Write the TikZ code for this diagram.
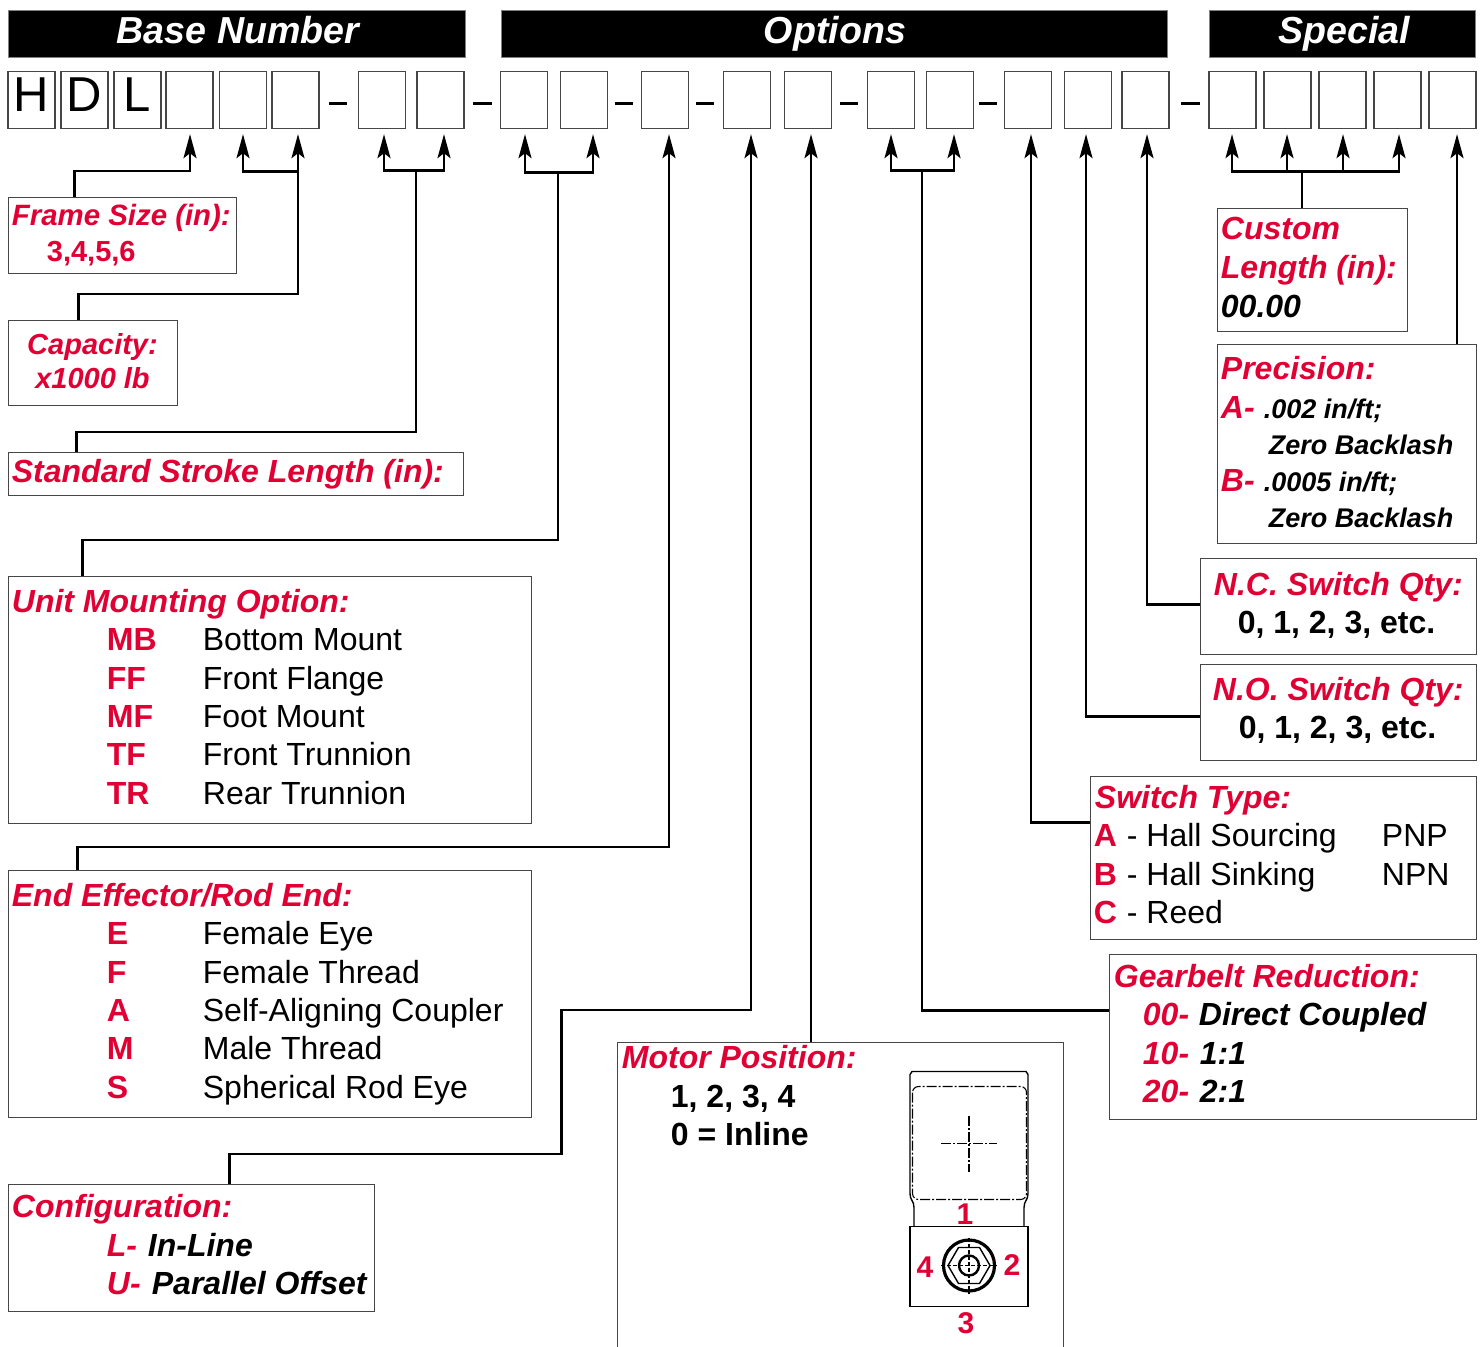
\documentclass[tikz,border=0pt]{standalone}
\usepackage{fontspec}
\setmainfont{Liberation Sans}
\usetikzlibrary{%
  arrows.meta,%
  calc,%
  fit,%
}
\definecolor{codered}{RGB}{224,0,52}
\definecolor{edgegray}{RGB}{70,70,70}
\newcommand{\fs}[1]{\fontsize{#1}{#1}\selectfont}
\tikzset{
  txt/.style={inner sep=0pt, anchor=base west, xshift=-0.25pt},
  head/.style={txt, text=codered, font=\fs{16}\bfseries\itshape},
  code/.style={txt, text=codered, font=\fs{16}\bfseries},
  rowtxt/.style={txt, font=\fs{16}},
  bolditem/.style={txt, font=\fs{16}\bfseries\itshape},
  valtxt/.style={txt, font=\fs{16}\bfseries},
  fine/.style={txt, font=\fs{13.5}\bfseries\itshape},
  num/.style={inner sep=0pt, text=codered, font=\fs{15}\bfseries},
  bar/.style={fill=black, draw=gray, line width=0.5pt, inner sep=0pt},
  bartxt/.style={inner sep=0pt, anchor=base, text=white, font=\fs{18.8}\bfseries\itshape},
  slot/.style={draw=edgegray, line width=0.7pt, fill=white, minimum width=23.5pt, minimum height=28.5pt,
    inner sep=0pt, text depth=5pt, font=\fs{24.5}},
  infobox/.style={draw=edgegray, line width=0.5pt, inner sep=0pt},
  wire/.style={line width=1.1pt},
  tip/.style={wire, -{Stealth[length=12pt, width=6.5pt, inset=2.5pt]}},
  part/.style={line width=0.7pt},
  centerline/.style={line width=0.55pt, dash pattern=on 5pt off 1pt on 1pt off 1pt},
}
\begin{document}
\begin{tikzpicture}[x=0.5pt, y=-0.5pt]

      \useasboundingbox (0, -0.5) rectangle (1481, 1346.5);

      % header bars
      \node [bar, fit={(8, 10) (465, 57)}] (barBase) {};
      \node [bar, fit={(501, 10) (1167, 57)}] (barOptions) {};
      \node [bar, fit={(1209, 10) (1475, 57)}] (barSpecial) {};
      \node [bartxt] (lblBase) at (238, 43) {Base Number};
      \node [bartxt] (lblOptions) at (835, 43) {Options};
      \node [bartxt] (lblSpecial) at (1344, 43) {Special};

      % model code slots
      \node [slot] (sH) at (31.5, 99.5) {H};
      \node [slot] (sD) at (84.5, 99.5) {D};
      \node [slot] (sL) at (137.5, 99.5) {L};
      \foreach \name/\xx in {frame/189.5, capA/243, capB/295.5, strA/382, strB/440.5,
          mntA/524, mntB/584, rod/665, conf/747, motor/808, gearA/891, gearB/950,
          swT/1028, swO/1088, swC/1145.5, lenA/1232.5, lenB/1287.5, lenC/1342.5,
          lenD/1397.5, prec/1452.5}
        \node [slot] (s\name) at (\xx, 99.5) {};

      \foreach \xa/\xb in {329/347, 473/492, 615/633, 696/714, 840/858, 979/997, 1181/1200}
        \draw [wire] (\xa, 103) -- (\xb, 103);

      % boxes
      \node [infobox, fit={(8, 197) (236, 273)}] (boxFrame) {};
      \node [infobox, fit={(8, 320) (177, 405)}] (boxCapacity) {};
      \node [infobox, fit={(8, 452) (463, 495)}] (boxStroke) {};
      \node [infobox, fit={(8, 576) (531, 823)}] (boxMount) {};
      \node [infobox, fit={(8, 870) (531, 1117)}] (boxRod) {};
      \node [infobox, fit={(8, 1184) (374, 1311)}] (boxConfig) {};
      \node [inner sep=0pt, fit={(618, 1042) (1063, 1346.5)}] (boxMotor) {};
      \draw [edgegray, line width=0.5pt] (boxMotor.south west) -- (boxMotor.north west)
        -- (boxMotor.north east) -- (boxMotor.south east);
      \node [infobox, fit={(1217, 208) (1407, 331)}] (boxLength) {};
      \node [infobox, fit={(1217, 344) (1476, 543)}] (boxPrecision) {};
      \node [infobox, fit={(1200, 558) (1476, 654)}] (boxNC) {};
      \node [infobox, fit={(1200, 664) (1476, 760)}] (boxNO) {};
      \node [infobox, fit={(1090, 776) (1476, 939)}] (boxSwitch) {};
      \node [infobox, fit={(1109, 954) (1476, 1119)}] (boxGear) {};

      % connectors
      \draw [tip] ([shift={(67, 0)}]boxFrame.north west) -- ++(0, -26) -| ([shift={(0.5, 5)}]sframe.south);

      \coordinate (jCap) at (298, 171);
      \draw [tip] ([shift={(71, 0)}]boxCapacity.north west) -- ++(0, -26) -| ([shift={(2.5, 5)}]scapB.south);
      \draw [tip] (jCap) -| ([shift={(0, 5)}]scapA.south);

      \coordinate (jStr) at (416, 170);
      \draw [wire] ([shift={(69, 0)}]boxStroke.north west) -- ++(0, -20) -| (jStr);
      \draw [tip] (jStr) -| ([shift={(2, 5)}]sstrA.south);
      \draw [tip] (jStr) -| ([shift={(3.5, 5)}]sstrB.south);

      \coordinate (jMnt) at (558, 172);
      \draw [wire] ([shift={(75, 0)}]boxMount.north west) -- ++(0, -36) -| (jMnt);
      \draw [tip] (jMnt) -| ([shift={(1, 5)}]smntA.south);
      \draw [tip] (jMnt) -| ([shift={(9, 5)}]smntB.south);

      \draw [tip] ([shift={(70, 0)}]boxRod.north west) -- ++(0, -23) -| ([shift={(4, 5)}]srod.south);

      \draw [tip] ([shift={(222, 0)}]boxConfig.north west) -- ++(0, -30) -- ++(332, 0) -- ++(0, -144)
        -| ([shift={(4, 5)}]sconf.south);

      \coordinate (tMotor) at ([shift={(3, 5)}]smotor.south);
      \draw [tip] (tMotor |- boxMotor.north) -- (tMotor);

      \coordinate (jGear) at (922, 170);
      \draw [wire] (boxGear.west |- 0, 1010) -| (jGear);
      \draw [tip] (jGear) -| ([shift={(0, 5)}]sgearA.south);
      \draw [tip] (jGear) -| ([shift={(4, 5)}]sgearB.south);

      \draw [tip] (boxSwitch.west |- 0, 822) -| ([shift={(3, 5)}]sswT.south);
      \draw [tip] (boxNO.west |- 0, 716) -| ([shift={(-2, 5)}]sswO.south);
      \draw [tip] (boxNC.west |- 0, 604) -| ([shift={(1.5, 5)}]sswC.south);
      \coordinate (tPrec) at ([shift={(4.5, 5)}]sprec.south);
      \draw [tip] (tPrec |- boxPrecision.north) -- (tPrec);

      \coordinate (jLen) at (1302, 171);
      \draw [wire] (jLen |- boxLength.north) -- (jLen);
      \draw [tip] (jLen) -| ([shift={(-0.5, 5)}]slenA.south);
      \draw [tip] (jLen) -| ([shift={(-0.5, 5)}]slenB.south);
      \draw [tip] (jLen) -| ([shift={(0.5, 5)}]slenC.south);
      \draw [tip] (jLen) -| ([shift={(1.5, 5)}]slenD.south);

      % frame size, capacity, stroke
      \node [head, font=\fs{14.7}\bfseries\itshape] (hFrame) at (12, 225) {Frame Size (in):};
      \node [txt, text=codered, font=\fs{14.5}\bfseries] (vFrame) at (47, 261) {3,4,5,6};
      \node [head, anchor=base, font=\fs{14.5}\bfseries\itshape] (hCapacity) at (93, 354) {Capacity:};
      \node [head, anchor=base, font=\fs{14.5}\bfseries\itshape] (vCapacity) at (93, 388) {x1000 lb};
      \node [head] (hStroke) at (12, 482) {Standard Stroke Length (in):};

      % mounting
      \node [head] (hMount) at (12, 612) {Unit Mounting Option:};
      \foreach \id/\txt/\yy in {MB/Bottom Mount/650, FF/Front Flange/689, MF/Foot Mount/727,
          TF/Front Trunnion/765, TR/Rear Trunnion/804} {
        \node [code] (c\id) at (107, \yy) {\id};
        \node [rowtxt] (t\id) at (203, \yy) {\txt};
      }

      % rod end
      \node [head] (hRod) at (12, 906) {End Effector/Rod End:};
      \foreach \id/\txt/\yy in {E/Female Eye/944, F/Female Thread/983, A/Self-Aligning Coupler/1021,
          M/Male Thread/1059, S/Spherical Rod Eye/1098} {
        \node [code] (r\id) at (107, \yy) {\id};
        \node [rowtxt] (n\id) at (203, \yy) {\txt};
      }

      % configuration
      \node [head] (hConfig) at (12, 1217) {Configuration:};
      \node [head] (cInline) at (107, 1256) {L-};
      \node [bolditem] (tInline) at (148, 1256) {In-Line};
      \node [head] (cOffset) at (107, 1294) {U-};
      \node [bolditem] (tOffset) at (152, 1294) {Parallel Offset};

      % motor position
      \node [head] (hMotor) at (622, 1068) {Motor Position:};
      \node [valtxt] (vMotorA) at (671, 1107) {1, 2, 3, 4};
      \node [valtxt] (vMotorB) at (671, 1145) {0 = Inline};

      \draw [part] (914, 1226) -- (914, 1207) .. controls (914, 1200) and (910, 1200) .. (910, 1193)
        -- (910, 1074) -- (912, 1071) -- (1026, 1071) -- (1028, 1074) -- (1028, 1193)
        .. controls (1028, 1200) and (1024, 1200) .. (1024, 1207) -- (1024, 1226);
      \draw [part] (910, 1226) rectangle (1028, 1306);
      \draw [centerline, rounded corners=3pt] (912.5, 1086) rectangle (1026.5, 1199);
      \draw [centerline] (941, 1143) -- (997, 1143);
      \draw [centerline] (969, 1115) -- (969, 1171);
      \draw [line width=1.6pt] (969, 1265) circle (25.5);
      \draw [part] (948, 1265) -- (958.5, 1247) -- (979.5, 1247) -- (990, 1265) -- (979.5, 1283) -- (958.5, 1283) -- cycle;
      \draw [line width=1.2pt] (969, 1265) circle (10);
      \draw [centerline, dash pattern=on 2pt off 1pt] (941, 1265) -- (997, 1265);
      \draw [centerline, dash pattern=on 2pt off 1pt] (969, 1237) -- (969, 1293);
      \node [num] (pos1) at (965, 1214) {1};
      \node [num] (pos2) at (1012, 1265) {2};
      \node [num] (pos3) at (966, 1323) {3};
      \node [num] (pos4) at (925, 1267) {4};

      % custom length, precision
      \node [head] (hLengthA) at (1221, 239) {Custom};
      \node [head] (hLengthB) at (1221, 278) {Length (in):};
      \node [bolditem] (vLength) at (1221, 317) {00.00};
      \node [head] (hPrecision) at (1221, 379) {Precision:};
      \node [head] (cPrecA) at (1221, 418) {A-};
      \node [fine] (tPrecA) at (1264, 418) {.002 in/ft;};
      \node [fine] (zPrecA) at (1269, 454) {Zero Backlash};
      \node [head] (cPrecB) at (1221, 491) {B-};
      \node [fine] (tPrecB) at (1264, 491) {.0005 in/ft;};
      \node [fine] (zPrecB) at (1269, 527) {Zero Backlash};

      % switches
      \node [head] (hNC) at (1214, 595) {N.C. Switch Qty:};
      \node [valtxt, anchor=base] (vNC) at (1337, 633) {0, 1, 2, 3, etc.};
      \node [head] (hNO) at (1213, 700) {N.O. Switch Qty:};
      \node [valtxt, anchor=base] (vNO) at (1338, 738) {0, 1, 2, 3, etc.};
      \node [head] (hSwitch) at (1095, 808) {Switch Type:};
      \foreach \id/\txt/\yy in {A/Hall Sourcing/846, B/Hall Sinking/885, C/Reed/923} {
        \node [code] (sw\id) at (1094, \yy) {\id};
        \node [rowtxt] (st\id) at (1127, \yy) {- \txt};
      }
      \node [rowtxt] (tPNP) at (1382, 846) {PNP};
      \node [rowtxt] (tNPN) at (1382, 885) {NPN};

      % gearbelt
      \node [head] (hGear) at (1114, 987) {Gearbelt Reduction:};
      \node [head] (cGearA) at (1143, 1025) {00-};
      \node [bolditem] (tGearA) at (1199, 1025) {Direct Coupled};
      \node [head] (cGearB) at (1143, 1064) {10-};
      \node [bolditem] (tGearB) at (1200, 1064) {1:1};
      \node [head] (cGearC) at (1143, 1102) {20-};
      \node [bolditem] (tGearC) at (1200, 1102) {2:1};

    \end{tikzpicture}
\end{document}
